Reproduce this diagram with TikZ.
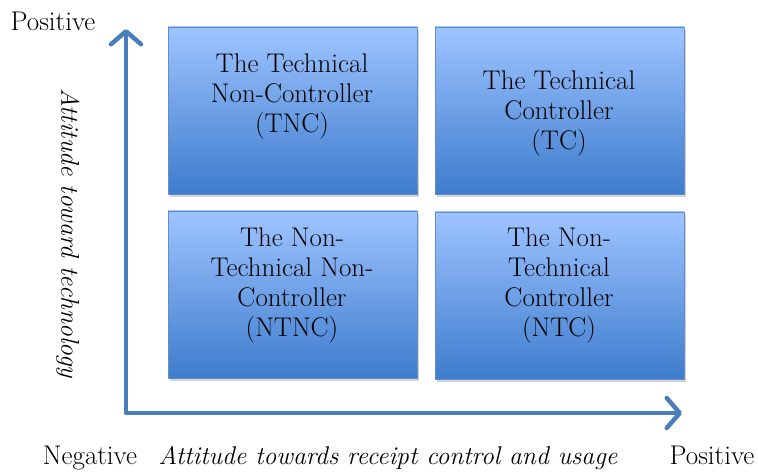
\documentclass[tikz,border=0pt]{standalone}
\usepackage{fontspec}
\setmainfont{Latin Modern Roman}
\usetikzlibrary{arrows.meta,shadows}
\definecolor{axisblue}{RGB}{74,126,187}
\definecolor{boxtop}{RGB}{158,196,255}
\definecolor{boxbot}{RGB}{62,124,205}
\definecolor{boxedge}{RGB}{100,140,200}
\begin{document}
\begin{tikzpicture}[x=1pt,y=-1pt,
  quad/.style={draw=boxedge, line width=0.8pt, top color=boxtop, bottom color=boxbot,
    minimum width=249pt, minimum height=167pt, inner sep=0pt,
    drop shadow={opacity=0.35, shadow xshift=2pt, shadow yshift=-3pt}},
  quadtext/.style={align=center, font=\fontsize{27}{30}\selectfont, inner sep=0pt},
  lbl/.style={font=\fontsize{27}{30}\selectfont, inner sep=0pt, anchor=base},
  itlbl/.style={font=\fontsize{25.6}{30}\selectfont\itshape, inner sep=0pt},
  axis/.style={draw=axisblue, line width=4.5pt, line join=round,
    {Straight Barb[length=13pt,width=30pt,round]}-{Straight Barb[length=13pt,width=30pt,round]}}
]
\useasboundingbox (0,0) rectangle (758,473);
% boxes
\node[quad] (tnc)  at (292.5,110.5) {};
\node[quad] (tc)   at (559.5,110.5) {};
\node[quad] (ntnc) at (292.5,294.5) {};
\node[quad] (ntc)  at (559.5,295.5) {};
% box texts
\node[quadtext] (tnct)  at (292,97)  {The Technical\\Non-Controller\\(TNC)};
\node[quadtext] (tct)   at (559,114) {The Technical\\Controller\\(TC)};
\node[quadtext] (ntnct) at (292,286) {The Non-\\Technical Non-\\Controller\\(NTNC)};
\node[quadtext] (ntct)  at (559,286) {The Non-\\Technical\\Controller\\(NTC)};
% axes
\coordinate (ytip) at (126,29);
\coordinate (origin) at (126,413);
\coordinate (xtip) at (682,413);
\draw[axis] (ytip) -- (origin) -- (xtip);
% labels
\node[lbl] (posy) at (53,31) {Positive};
\node[lbl] (neg)  at (90,464) {Negative};
\node[lbl] (posx) at (712,464) {Positive};
\node[itlbl, anchor=base] (xlab) at (388,464) {Attitude towards receipt control and usage};
\node[itlbl, rotate=-90] (ylab) at (68,233) {Attitude toward technology};
\end{tikzpicture}
\end{document}
